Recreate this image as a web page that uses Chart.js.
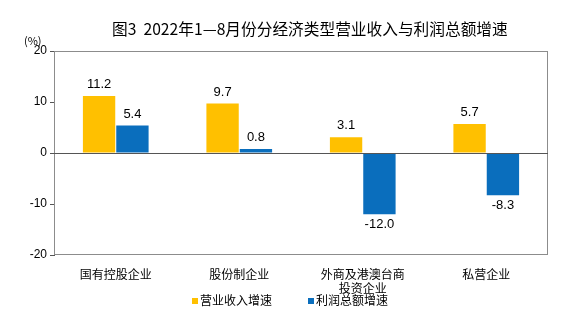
<!DOCTYPE html>
<html><head><meta charset="utf-8">
<script src="https://cdn.jsdelivr.net/npm/chart.js@4/dist/chart.umd.min.js"></script>
<style>
html,body{margin:0;padding:0;background:#fff;}
#wrap{position:relative;width:580px;height:334px;font-family:"Noto Sans CJK SC","Noto Sans",sans-serif;}
#title{position:absolute;left:112px;top:17px;white-space:nowrap;font-size:15.7px;color:#000;}
#unit{position:absolute;left:24px;top:32px;font-size:11px;color:#000;}
#legend{position:absolute;top:291px;left:0;width:580px;text-align:center;font-size:12px;color:#000;}
#legend span.sw{display:inline-block;width:6px;height:6px;margin-right:2px;vertical-align:middle;position:relative;top:-1px;}
#legend span.it{margin:0 18px;}
canvas{position:absolute;left:0;top:0;}
</style></head>
<body><div id="wrap">
<canvas id="c" width="580" height="334"></canvas>
<div id="title">图3&nbsp; 2022年1—8月份分经济类型营业收入与利润总额增速</div>
<div id="unit">(%)</div>
<div id="legend"><span class="it"><span class="sw" style="background:#FFC000"></span>营业收入增速</span><span class="it"><span class="sw" style="background:#0A6EBD"></span>利润总额增速</span></div>
</div>
<script>
const categories = [["国有控股企业"], ["股份制企业"], ["外商及港澳台商", "投资企业"], ["私营企业"]];
const revenueGrowth = [11.2, 9.7, 3.1, 5.7];
const profitGrowth = [5.4, 0.8, -12.0, -8.3];
const yTicks = [-20, -10, 0, 10, 20];

const frame = {
  id: 'frame',
  afterDatasetsDraw(chart) {
    const {ctx, chartArea: a, scales} = chart;
    ctx.save();
    ctx.strokeStyle = '#8c8c8c';
    ctx.lineWidth = 1;
    ctx.strokeRect(a.left + 0.5, a.top + 0.5, a.right - a.left - 1, a.bottom - a.top - 1);
    const y0 = Math.round(scales.y.getPixelForValue(0)) + 0.5;
    ctx.strokeStyle = '#555';
    ctx.beginPath(); ctx.moveTo(a.left, y0); ctx.lineTo(a.right, y0); ctx.stroke();
    ctx.fillStyle = '#000';
    ctx.font = '13px "Liberation Sans", Arial, sans-serif';
    ctx.textAlign = 'center';
    chart.data.datasets.forEach((ds, di) => {
      chart.getDatasetMeta(di).data.forEach((bar, i) => {
        const v = ds.data[i];
        const txt = v.toFixed(1);
        if (v >= 0) { ctx.textBaseline = 'bottom'; ctx.fillText(txt, bar.x, bar.y - 5); }
        else { ctx.textBaseline = 'top'; ctx.fillText(txt, bar.x, bar.y + 4); }
      });
    });
    ctx.restore();
  }
};

new Chart(document.getElementById('c'), {
  type: 'bar',
  data: {
    labels: categories,
    datasets: [
      {label: '营业收入增速', data: revenueGrowth, backgroundColor: '#FFC000', categoryPercentage: 0.54, barPercentage: 0.97},
      {label: '利润总额增速', data: profitGrowth, backgroundColor: '#0A6EBD', categoryPercentage: 0.54, barPercentage: 0.97}
    ]
  },
  options: {
    responsive: false,
    animation: false,
    layout: {padding: {top: 51, right: 32, bottom: 0, left: 0}},
    plugins: {legend: {display: false}, title: {display: false}, tooltip: {enabled: false}},
    scales: {
      x: {
        grid: {display: false},
        border: {display: false},
        ticks: {color: '#000', font: {family: '"Noto Sans CJK SC", sans-serif', size: 12}, padding: 4, maxRotation: 0, autoSkip: false},
        afterFit(s) { s.height = 79; }
      },
      y: {
        min: -20, max: 20,
        afterBuildTicks(s) { s.ticks = yTicks.map(v => ({value: v})); },
        grid: {drawOnChartArea: false, drawTicks: true, tickLength: 4, color: '#555'},
        border: {display: true, color: '#555'},
        ticks: {color: '#000', font: {family: '"Liberation Sans", Arial, sans-serif', size: 12}, padding: 3},
        afterFit(s) { s.width = 54; }
      }
    }
  },
  plugins: [frame]
});
</script>
</body></html>
